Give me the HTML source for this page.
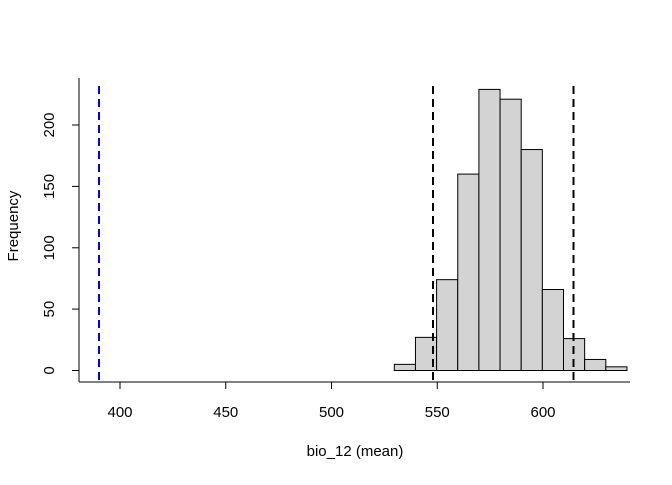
<!DOCTYPE html>
<html><head><style>body{margin:0;background:#fff}</style></head><body>
<svg width="672" height="480" xmlns="http://www.w3.org/2000/svg" font-family="Liberation Sans, sans-serif" font-size="15">
<g fill="#d3d3d3" stroke="#000" stroke-width="1">
<rect x="394.3" y="364.36" width="21.15" height="6.14"/>
<rect x="415.45" y="337.36" width="21.15" height="33.14"/>
<rect x="436.6" y="279.66" width="21.15" height="90.84"/>
<rect x="457.75" y="174.1" width="21.15" height="196.4"/>
<rect x="478.9" y="89.4" width="21.15" height="281.1"/>
<rect x="500.05" y="99.2" width="21.15" height="271.3"/>
<rect x="521.2" y="149.55" width="21.15" height="220.95"/>
<rect x="542.35" y="289.5" width="21.15" height="81"/>
<rect x="563.5" y="338.6" width="21.15" height="31.9"/>
<rect x="584.65" y="359.45" width="21.15" height="11.05"/>
<rect x="605.8" y="366.82" width="21.15" height="3.68"/>
</g>
<g stroke="#000" stroke-width="1" fill="none">
<line x1="79" y1="78" x2="79" y2="382"/>
<line x1="79" y1="382" x2="630" y2="382"/>
<line x1="72" y1="370.5" x2="79" y2="370.5"/>
<line x1="72" y1="309.1" x2="79" y2="309.1"/>
<line x1="72" y1="247.8" x2="79" y2="247.8"/>
<line x1="72" y1="186.4" x2="79" y2="186.4"/>
<line x1="72" y1="125" x2="79" y2="125"/>
<line x1="120" y1="382" x2="120" y2="389"/>
<line x1="225.75" y1="382" x2="225.75" y2="389"/>
<line x1="331.5" y1="382" x2="331.5" y2="389"/>
<line x1="437.25" y1="382" x2="437.25" y2="389"/>
<line x1="543" y1="382" x2="543" y2="389"/>
</g>
<g stroke-width="2" stroke-dasharray="8,5">
<line x1="99" y1="86" x2="99" y2="382" stroke="#0000ff"/>
<line x1="433" y1="86" x2="433" y2="382" stroke="#000"/>
<line x1="573.5" y1="86" x2="573.5" y2="382" stroke="#000"/>
</g>
<g text-anchor="middle" fill="#000">
<text x="120" y="417">400</text>
<text x="225.75" y="417">450</text>
<text x="331.5" y="417">500</text>
<text x="437.25" y="417">550</text>
<text x="543" y="417">600</text>
<text x="355" y="456">bio_12 (mean)</text>
<text transform="translate(54,370.5) rotate(-90)">0</text>
<text transform="translate(54,309.1) rotate(-90)">50</text>
<text transform="translate(54,247.8) rotate(-90)">100</text>
<text transform="translate(54,186.4) rotate(-90)">150</text>
<text transform="translate(54,125) rotate(-90)">200</text>
<text transform="translate(18,226) rotate(-90)">Frequency</text>
</g>
</svg>
</body></html>
